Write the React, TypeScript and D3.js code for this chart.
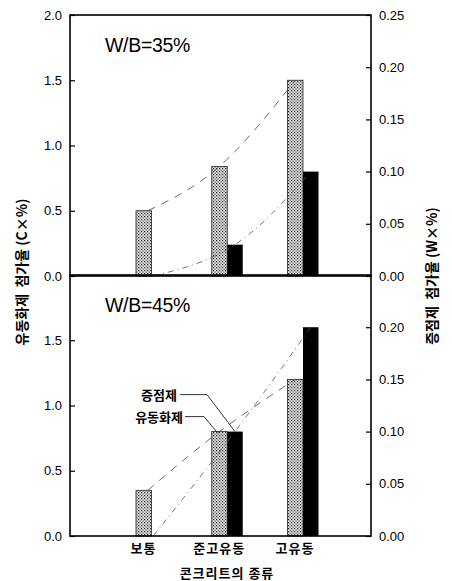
import React, { useRef, useEffect } from 'react'
import * as d3 from 'd3'

// concrete types
const categories = ['보통', '준고유동', '고유동']
// superplasticizer dosage (C×%), left axis
const superplasticizer35 = [0.5, 0.84, 1.5]
const superplasticizer45 = [0.35, 0.8, 1.2]
// thickener dosage (W×%), right axis
const thickener35 = [0, 0.03, 0.1]
const thickener45 = [0, 0.1, 0.2]

const leftTicks35 = [0, 0.5, 1.0, 1.5, 2.0]
const leftTicks45 = [0, 0.5, 1.0, 1.5]
const rightTicks35 = [0, 0.05, 0.1, 0.15, 0.2, 0.25]
const rightTicks45 = [0, 0.05, 0.1, 0.15, 0.2]

const panelLabels = ['W/B=35%', 'W/B=45%']
const legendLabels = ['증점제', '유동화제']
const xTitle = '콘크리트의 종류'
const leftTitle = '유동화제  첨가율 (C×%)'
const rightTitle = '증점제  첨가율 (W×%)'

const LATIN = '"Liberation Sans", Arial, sans-serif'
const KR = '"Noto Sans CJK KR", sans-serif'

function App() {
  const svgRef = useRef<SVGSVGElement>(null)

  useEffect(() => {
    const width = 452
    const height = 581
    const left = 70
    const right = 371
    const svg = d3.select(svgRef.current)
    svg.selectAll('*').remove()
    svg.attr('width', width).attr('height', height)

    // stipple pattern
    const pat = svg.append('defs').append('pattern')
      .attr('id', 'stip').attr('width', 3).attr('height', 3)
      .attr('patternUnits', 'userSpaceOnUse')
    pat.append('rect').attr('width', 3).attr('height', 3).attr('fill', '#e6e6e6')
    pat.append('rect').attr('x', 0).attr('y', 0).attr('width', 1.2).attr('height', 1.2).attr('fill', '#222')
    pat.append('rect').attr('x', 1.5).attr('y', 1.5).attr('width', 1.2).attr('height', 1.2).attr('fill', '#444')

    const x = d3.scalePoint().domain(categories).range([151.5, 303])
    const bw = 15.5

    const panels = [
      { top: 15, bottom: 276, sp: superplasticizer35, th: thickener35, lt: leftTicks35, rt: rightTicks35, label: panelLabels[0] },
      { top: 275, bottom: 536, sp: superplasticizer45, th: thickener45, lt: leftTicks45, rt: rightTicks45, label: panelLabels[1] },
    ]

    panels.forEach((p, pi) => {
      const yL = d3.scaleLinear().domain([0, 2]).range([p.bottom, p.top])
      const yR = d3.scaleLinear().domain([0, 0.25]).range([p.bottom, p.top])
      const g = svg.append('g')

      // superplasticizer bars (stippled)
      g.selectAll('rect.sp').data(p.sp).join('rect')
        .attr('x', (d, i) => x(categories[i])! - bw)
        .attr('y', d => yL(d))
        .attr('width', bw)
        .attr('height', d => yL(0) - yL(d))
        .attr('fill', 'url(#stip)')
        .attr('stroke', '#222').attr('stroke-width', 0.8)

      // thickener bars (black)
      g.selectAll('rect.th').data(p.th).join('rect')
        .attr('x', (d, i) => x(categories[i])!)
        .attr('y', d => yR(d))
        .attr('width', bw)
        .attr('height', d => yR(0) - yR(d))
        .attr('fill', '#000')

      // trend curves
      const spLine = d3.line<number>()
        .x((d, i) => x(categories[i])! - bw / 2 + (i === 0 ? 4 : 0))
        .y(d => yL(d))
        .curve(d3.curveNatural)
      const thLine = d3.line<number>()
        .x((d, i) => x(categories[i])! + bw / 2 - (i === 0 ? 6 : 0))
        .y(d => yR(d))
        .curve(d3.curveNatural)
      g.append('path').datum(p.sp).attr('d', spLine)
        .attr('fill', 'none').attr('stroke', '#444').attr('stroke-width', 0.8)
        .attr('stroke-dasharray', '8,7')
      g.append('path').datum(p.th).attr('d', thLine)
        .attr('fill', 'none').attr('stroke', '#555').attr('stroke-width', 0.8)
        .attr('stroke-dasharray', '6,4,1,4')

      // frame
      g.append('rect').attr('x', left).attr('y', p.top)
        .attr('width', right - left).attr('height', p.bottom - p.top)
        .attr('fill', 'none').attr('stroke', '#000').attr('stroke-width', 1.6)

      // axes
      const la = g.append('g').attr('transform', `translate(${left},0)`)
        .call(d3.axisLeft(yL).tickValues(p.lt).tickFormat(d3.format('.1f')).tickSizeInner(-5).tickSizeOuter(0).tickPadding(8))
      const ra = g.append('g').attr('transform', `translate(${right},0)`)
        .call(d3.axisRight(yR).tickValues(p.rt).tickFormat(d3.format('.2f')).tickSizeInner(-5).tickSizeOuter(0).tickPadding(8))
      ;[la, ra].forEach(a => {
        a.select('.domain').remove()
        a.selectAll('line').attr('stroke', '#000').attr('stroke-width', 1.2)
        a.selectAll('text').attr('font-family', LATIN).attr('font-size', 13).attr('fill', '#000')
      })

      g.append('text').attr('x', left + 35).attr('y', p.top + 37)
        .attr('font-family', LATIN).attr('font-size', 19.5).attr('fill', '#000')
        .attr('letter-spacing', -0.3)
        .text(p.label)

      if (pi === 1) {
        // leader annotations
        const tx = x(categories[1])!
        const spTop = yL(p.sp[1])
        const thTop = yR(p.th[1])
        const ann = [
          { text: legendLabels[0], ty: spTop - 37, tx2: tx + bw / 2, ty2: thTop },
          { text: legendLabels[1], ty: spTop - 15, tx2: tx - bw / 2 - 3, ty2: spTop },
        ]
        ann.forEach((a, k) => {
          g.append('text').attr('x', k === 0 ? 177 : 183).attr('y', a.ty + 5)
            .attr('text-anchor', 'end').attr('font-family', KR).attr('font-size', 13)
            .attr('font-weight', 700).attr('fill', '#000').text(a.text)
          g.append('path')
            .attr('d', `M${k === 0 ? 180 : 185},${a.ty}H${k === 0 ? 207 : 204}L${a.tx2},${a.ty2}`)
            .attr('fill', 'none').attr('stroke', '#000').attr('stroke-width', 0.8)
        })
      }
    })

    // x labels
    svg.append('g').selectAll('text').data(categories).join('text')
      .attr('x', d => x(d)! - 8)
      .attr('y', 553)
      .attr('text-anchor', 'middle')
      .attr('font-family', KR).attr('font-size', 13).attr('font-weight', 700)
      .attr('fill', '#000').attr('letter-spacing', 1)
      .text(d => d)
    svg.append('text').attr('x', 227).attr('y', 578).attr('text-anchor', 'middle')
      .attr('font-family', KR).attr('font-size', 13).attr('font-weight', 700)
      .attr('fill', '#000').attr('letter-spacing', 1).text(xTitle)

    // axis titles
    svg.append('text').attr('transform', 'translate(27,272) rotate(-90)')
      .attr('text-anchor', 'middle').attr('font-family', KR).attr('font-size', 14)
      .attr('font-weight', 700)
      .attr('fill', '#000').style('white-space', 'pre')
      .text(leftTitle)
    svg.append('text').attr('transform', 'translate(437,276) rotate(-90)')
      .attr('text-anchor', 'middle').attr('font-family', KR).attr('font-size', 14)
      .attr('font-weight', 700)
      .attr('fill', '#000').style('white-space', 'pre')
      .text(rightTitle)
  }, [])

  return <svg ref={svgRef} style={{ position: 'absolute', left: 0, top: 0 }}></svg>
}

export default App
